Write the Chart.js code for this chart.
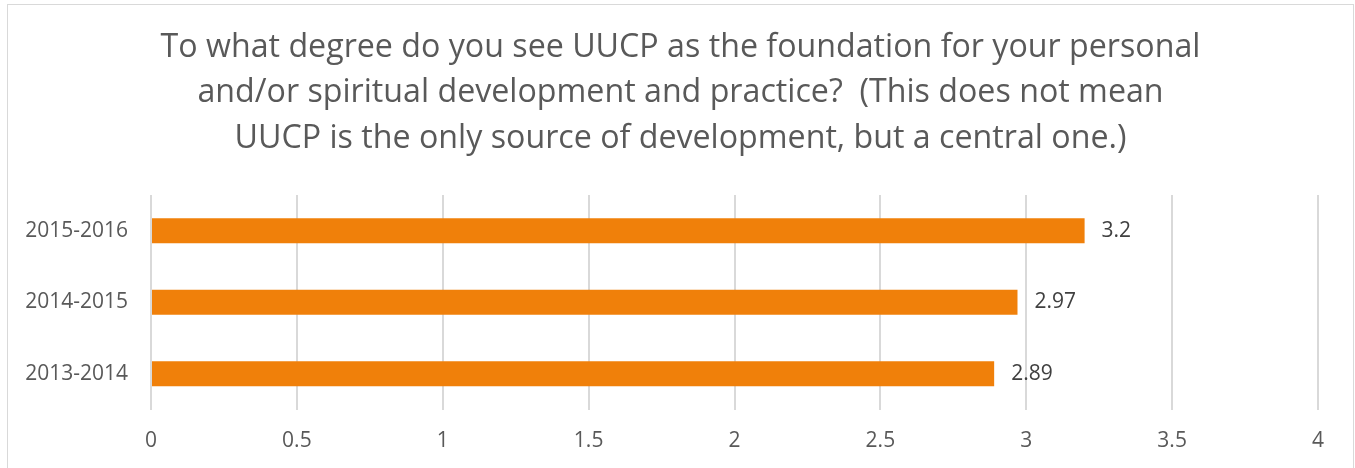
<!DOCTYPE html>
<html>
<head>
<meta charset="utf-8">
<script src="https://cdn.jsdelivr.net/npm/chart.js@4.4.1/dist/chart.umd.min.js"></script>
<style>
  html, body { margin: 0; padding: 0; background: #fff; overflow: hidden; }
  .frame { position: absolute; left: 7px; top: 4px; width: 1345px; height: 470px; border: 1px solid #d9d9d9; }
  canvas { display: block; }
</style>
</head>
<body>
<div class="frame">
  <canvas id="chart" width="1345" height="463"></canvas>
</div>
<script>
const titleLines = [
  'To what degree do you see UUCP as the foundation for your personal',
  'and/or spiritual development and practice?  (This does not mean',
  'UUCP is the only source of development, but a central one.)'
];
const categories = ['2015-2016', '2014-2015', '2013-2014'];
const values = [3.2, 2.97, 2.89];
const xTicks = [0, 0.5, 1, 1.5, 2, 2.5, 3, 3.5, 4];

const barColor = '#F0800A';
const textColor = '#595959';
const fontFamily = '"Open Sans", sans-serif';

// value labels to the right of each bar
const valueLabels = {
  id: 'valueLabels',
  afterDatasetsDraw(chart) {
    const ctx = chart.ctx;
    const meta = chart.getDatasetMeta(0);
    ctx.save();
    ctx.font = '21px ' + fontFamily;
    ctx.fillStyle = '#404040';
    ctx.textAlign = 'left';
    ctx.textBaseline = 'middle';
    meta.data.forEach((bar, i) => {
      ctx.fillText(String(values[i]), bar.x + 17, bar.y);
    });
    ctx.restore();
  }
};

const ctx = document.getElementById('chart').getContext('2d');
new Chart(ctx, {
  type: 'bar',
  data: {
    labels: categories,
    datasets: [{
      data: values,
      yAxisID: 'y',
      backgroundColor: barColor,
      borderWidth: 0,
      barPercentage: 0.35,
      categoryPercentage: 1
    }]
  },
  options: {
    indexAxis: 'y',
    responsive: false,
    animation: false,
    layout: { padding: 0 },
    plugins: {
      legend: { display: false },
      tooltip: { enabled: false },
      title: {
        display: true,
        text: titleLines,
        color: textColor,
        font: { family: fontFamily, size: 32.2, weight: 'normal', lineHeight: '45.5px' },
        padding: { top: 20, bottom: 33.5 }
      }
    },
    scales: {
      x: {
        min: 0,
        max: 4,
        afterBuildTicks(scale) {
          scale.ticks = xTicks.map(v => ({ value: v }));
        },
        afterFit(scale) { scale.height = 58.5; },
        grid: { color: '#d9d9d9', lineWidth: 2, drawTicks: false },
        border: { display: false },
        ticks: {
          color: textColor,
          padding: 19,
          font: { family: fontFamily, size: 21 },
          callback: v => String(v)
        }
      },
      y: {
        grid: { display: false, drawTicks: false },
        border: { display: false },
        afterFit(scale) { scale.width = 143; },
        ticks: {
          color: textColor,
          padding: 23,
          font: { family: fontFamily, size: 21 }
        }
      },
      // empty right-hand spacer so the plot ends where the reference does
      yRight: {
        type: 'category',
        position: 'right',
        grid: { display: false, drawTicks: false },
        border: { display: false },
        ticks: { display: false },
        afterFit(scale) { scale.width = 35; }
      }
    }
  },
  plugins: [valueLabels]
});
</script>
</body>
</html>
